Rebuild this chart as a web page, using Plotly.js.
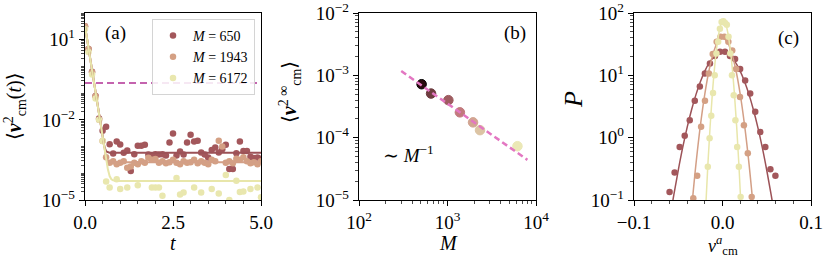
<!DOCTYPE html>
<html><head><meta charset="utf-8">
<script src="https://cdn.plot.ly/plotly-3.0.1.min.js"></script>
<style>body{margin:0;background:#fff} #chart{width:830px;height:260px}</style>
</head><body><div id="chart"></div>
<script>
// ---------- Panel (a): <v_cm^2(t)> vs t ----------
const tA = [0.0,0.1,0.2,0.3,0.4,0.5,0.6,0.7,0.8,0.9,1.0,1.1,1.2,1.3,1.4,1.5,1.6,1.7,1.8,1.9,2.0,2.1,2.2,2.3,2.4,2.5,2.6,2.7,2.8,2.9,3.0,3.1,3.2,3.3,3.4,3.5,3.6,3.7,3.8,3.9,4.0,4.1,4.2,4.3,4.4,4.5,4.6,4.7,4.8,4.9,5.0];
const v650 = [32,4.5,0.63,0.079,0.0112,3.9e-3,5.5e-3,1.23e-3,5.5e-4,1.55e-3,1.2e-3,5.9e-4,7.1e-4,1.23e-4,5.2e-4,1.07e-3,1.07e-3,1.17e-3,5.0e-4,4.6e-4,5.2e-4,5.0e-4,5.2e-4,4.6e-4,1.41e-3,3.1e-3,4.6e-4,6.6e-4,5.0e-4,1.41e-3,2.75e-3,1.55e-3,1.66e-3,6.0e-4,5.0e-4,3.9e-4,7.4e-4,9.3e-4,6.0e-4,7.9e-4,1.17e-3,1.45e-4,1.45e-4,5.6e-4,1.55e-3,6.9e-4,6.9e-4,4.2e-4,3.7e-4,3.9e-4,3.5e-4];
const v1943 = [32,4.5,0.6,0.076,0.01,1.6e-3,4.0e-4,2.5e-4,2.8e-4,2.2e-4,2.5e-4,2.8e-4,1.6e-4,1.8e-4,2.5e-4,2.2e-4,2.8e-4,2.5e-4,3.8e-4,3.2e-4,3.4e-4,2.5e-4,2.8e-4,2.4e-4,2.6e-4,3.2e-4,2.5e-4,2.2e-4,2.8e-4,2.5e-4,2.6e-4,3.2e-4,2.4e-4,2.8e-4,2.5e-4,2.2e-4,3.2e-4,2.8e-4,1.66e-3,1.0e-3,2.5e-4,2.8e-4,2.4e-4,3.5e-4,3.2e-4,4.0e-4,2.8e-4,2.4e-4,2.6e-4,2.2e-4,2.8e-4];
const v6172 = [25,3.5,0.5,0.063,0.01,1.6e-3,4.9e-5,2.95e-5,5e-6,6.0e-5,2.6e-5,4e-6,2.95e-5,3.2e-6,6.3e-6,3.6e-5,5e-6,2.5e-6,6.3e-6,2.95e-5,2.95e-5,2.95e-5,1.45e-5,4e-6,5e-6,2.5e-6,6.6e-5,1.6e-5,1.9e-5,3.2e-6,5e-6,2.95e-5,4e-6,1.9e-5,2.5e-6,5e-6,2.6e-5,3.2e-6,1.74e-5,4e-6,8.7e-5,1.0e-5,3.2e-6,5.2e-5,2.0e-5,2.1e-5,4e-6,2.6e-5,5e-6,2.95e-5,1.26e-5];
// fitted curves
const fitT650 = [0,0.1,0.2,0.3,0.4,0.5,0.55,0.6,0.7,5.0];
const fitV650 = [32,4.7,0.69,0.102,0.015,2.24e-3,1.0e-3,6.6e-4,5.9e-4,5.9e-4];
const fitT1943 = [0,0.1,0.2,0.3,0.4,0.5,0.55,0.6,0.65,0.75,5.0];
const fitV1943 = [32,4.7,0.69,0.102,0.015,2.24e-3,7.9e-4,3.8e-4,2.75e-4,2.6e-4,2.6e-4];
const fitT6172 = [0,0.1,0.2,0.3,0.4,0.5,0.6,0.65,0.7,0.75,0.8,0.9,5.0];
const fitV6172 = [32,4.7,0.69,0.102,0.015,2.24e-3,3.4e-4,1.41e-4,7.9e-5,6.0e-5,5.4e-5,5.1e-5,5.1e-5];
const dashT = [0,5];
const dashV = [0.24,0.24];
const seriesNames = ['<i>M</i> = 650','<i>M</i> = 1943','<i>M</i> = 6172'];

// ---------- Panel (b): plateau vs M ----------
const Mb = [510,652,1023,1380,1943,2330,6172];
const vb = [7.2e-4,5.1e-4,4.0e-4,2.55e-4,1.76e-4,1.32e-4,7.3e-5];
const bColors = ['#2a0a0e','#6e3c40','#9e5c60','#c27a7e','#d2a592','#dcc4a4','#ebe8b6'];
const fitMb = [300,8000];
const fitvb = [1.17e-3,4.4e-5];

// ---------- Panel (c): distributions ----------
const xc650 = [-0.0598,-0.0541,-0.0484,-0.0427,-0.0370,-0.0313,-0.0256,-0.0199,-0.0142,-0.0085,-0.0028,0.0028,0.0085,0.0142,0.0199,0.0256,0.0313,0.0370,0.0427,0.0484,0.0541,0.0598];
const pc650 = [0.135,0.275,0.71,1.07,1.9,3.9,6.6,10.7,15.5,20.4,24,24,20.4,18.2,12.6,8.3,5.1,2.6,1.23,0.71,0.31,0.245];
const xc1943 = [-0.033,-0.0286,-0.0242,-0.0198,-0.0154,-0.011,-0.0066,-0.0022,0.0022,0.0066,0.011,0.0154,0.0198,0.0242,0.0286,0.033];
const pc1943 = [0.107,0.245,1.5,3.9,10.7,21.9,34.7,41.7,41.7,34.7,25.1,12.6,4.5,1.58,0.56,0.112];
const xc6172 = [-0.0185,-0.0166,-0.0146,-0.0127,-0.0107,-0.00878,-0.00683,-0.00488,-0.00293,-0.00098,0.00098,0.00293,0.00488,0.00683,0.00878,0.0107,0.0127,0.0146,0.0166,0.0185,0.0205];
const pc6172 = [0.07,0.34,0.98,2.24,5.2,10,22.4,34.7,56,72,74,69,65,41.7,22.4,10,4.8,1.9,0.71,0.34,0.112];
const gx650 = [-0.06,-0.055,-0.05,-0.045,-0.04,-0.035,-0.03,-0.025,-0.02,-0.015,-0.01,-0.005,0,0.005,0.01,0.015,0.02,0.025,0.03,0.035,0.04,0.045,0.05,0.055,0.06];
const gy650 = [0.045,0.121,0.30,0.69,1.45,2.78,4.9,7.9,11.7,15.8,19.5,22.4,23.4,22.4,19.5,15.8,11.7,7.9,4.9,2.78,1.45,0.69,0.30,0.121,0.045];
const gx1943 = [-0.035,-0.03,-0.025,-0.02,-0.015,-0.01,-0.005,0,0.005,0.01,0.015,0.02,0.025,0.03,0.035];
const gy1943 = [0.070,0.376,1.56,5.0,12.4,23.7,35.0,39.8,35.0,23.7,12.4,5.0,1.56,0.376,0.070];
const gx6172 = [-0.0215,-0.019,-0.0165,-0.014,-0.0115,-0.009,-0.0065,-0.004,-0.0015,0.001,0.0035,0.006,0.0085,0.011,0.0135,0.016,0.0185,0.021,0.0235];
const gy6172 = [0.0117,0.074,0.374,1.52,5.0,13.2,28,48.2,66.5,74,66.5,48.2,28,13.2,5.0,1.52,0.374,0.074,0.0117];

const cols = ['#a3575b','#d4a084','#e9e7ae'];
const lineCols = ['#9c5257','#d39f86','#e8e6aa'];
const FONT = '"Liberation Serif", "DejaVu Serif", "Times New Roman", serif';

function logMinor(a,b){const r=[];for(let d=a;d<b;d++)for(let k=1;k<10;k++)r.push(k*Math.pow(10,d));r.push(Math.pow(10,b));return r;}
function linMinor(a,b,s){const r=[];for(let v=a;v<=b+1e-9;v+=s)r.push(+v.toFixed(6));return r;}
function ax(extra){
  return Object.assign({showline:true,mirror:true,linecolor:'#000',linewidth:1.3,ticks:'outside',ticklen:5,tickwidth:1,tickcolor:'#000',
    showgrid:false,zeroline:false,ticklabeloverflow:'allow',tickfont:{family:FONT,size:19,color:'#000'}},extra);
}
function minorOpts(vals){return {tickvals:vals,ticklen:2.5,tickwidth:0.7,tickcolor:'#000',ticks:'outside',showgrid:false};}

const traces = [];
[v650,v1943,v6172].forEach((v,i)=>{
  traces.push({x:tA,y:v,type:'scatter',mode:'markers',name:seriesNames[i],xaxis:'x',yaxis:'y',
    marker:{color:cols[i],size:6.5},showlegend:true});
});
[[fitT650,fitV650],[fitT1943,fitV1943],[fitT6172,fitV6172]].forEach((p,i)=>{
  traces.push({x:p[0],y:p[1],type:'scatter',mode:'lines',xaxis:'x',yaxis:'y',line:{color:lineCols[i],width:2},showlegend:false,hoverinfo:'skip'});
});
traces.push({x:dashT,y:dashV,type:'scatter',mode:'lines',xaxis:'x',yaxis:'y',line:{color:'#c463ae',width:2,dash:'7px,4px'},showlegend:false});
traces.push({x:Mb,y:vb,type:'scatter',mode:'markers',xaxis:'x2',yaxis:'y2',showlegend:false,
  marker:{color:bColors,size:9.5,line:{color:bColors.map((c,i)=>i===0?'#000':c),width:1}}});
traces.push({x:fitMb,y:fitvb,type:'scatter',mode:'lines',xaxis:'x2',yaxis:'y2',showlegend:false,line:{color:'#e377c2',width:2.5,dash:'6px,3.5px'}});
[[gx650,gy650,xc650,pc650],[gx1943,gy1943,xc1943,pc1943],[gx6172,gy6172,xc6172,pc6172]].forEach((p,i)=>{
  traces.push({x:p[0],y:p[1],type:'scatter',mode:'lines',xaxis:'x3',yaxis:'y3',showlegend:false,line:{color:lineCols[i],width:1.5,shape:'spline'}});
  traces.push({x:p[2],y:p[3],type:'scatter',mode:'markers',xaxis:'x3',yaxis:'y3',showlegend:false,marker:{color:cols[i],size:6.5}});
});

function px(x){return x/830;}
function py(y){return (200-y)/187;}
const ann = (text,x,y,size,extra)=>Object.assign({text:text,xref:'paper',yref:'paper',x:px(x),y:py(y),showarrow:false,
  font:{family:FONT,size:size,color:'#000'},xanchor:'center',yanchor:'middle',borderpad:0},extra||{});

const layout = {
  width:830,height:260,margin:{l:0,r:0,t:13,b:60},paper_bgcolor:'#fff',plot_bgcolor:'#fff',
  font:{family:FONT,color:'#000'},
  showlegend:true,
  legend:{x:px(152),y:py(19),xanchor:'left',yanchor:'top',bgcolor:'rgba(255,255,255,0.85)',bordercolor:'#d4d4d4',borderwidth:1,
    font:{family:FONT,size:14,color:'#000'},tracegroupgap:0},
  xaxis:ax({domain:[px(85),px(261)],range:[0,5],tickvals:[0,2.5,5],ticktext:['0.0','2.5','5.0'],anchor:'y',
    minor:minorOpts(linMinor(0,5,0.5))}),
  yaxis:ax({domain:[0,1],type:'log',range:[-5,2],tickvals:[1e-5,1e-2,10],ticktext:['10<sup>−5</sup>','10<sup>−2</sup>','10<sup>1</sup>'],anchor:'x',
    minor:minorOpts(logMinor(-5,2))}),
  xaxis2:ax({domain:[px(359),px(536)],type:'log',range:[2,4],tickvals:[100,1000,10000],ticktext:['10<sup>2</sup>','10<sup>3</sup>','10<sup>4</sup>'],anchor:'y2',
    minor:minorOpts(logMinor(2,4))}),
  yaxis2:ax({domain:[0,1],type:'log',range:[-5,-2],tickvals:[1e-5,1e-4,1e-3,1e-2],ticktext:['10<sup>−5</sup>','10<sup>−4</sup>','10<sup>−3</sup>','10<sup>−2</sup>'],anchor:'x2',
    minor:minorOpts(logMinor(-5,-2))}),
  xaxis3:ax({domain:[px(634),px(811)],range:[-0.1,0.1],tickvals:[-0.1,0,0.1],ticktext:['−0.1','0.0','0.1'],anchor:'y3',
    minor:minorOpts(linMinor(-0.1,0.1,0.02))}),
  yaxis3:ax({domain:[0,1],type:'log',range:[-1,2],tickvals:[0.1,1,10,100],ticktext:['10<sup>−1</sup>','10<sup>0</sup>','10<sup>1</sup>','10<sup>2</sup>'],anchor:'x3',
    minor:minorOpts(logMinor(-1,2))}),
  annotations:[
    ann('⟨<b><i>v</i></b><sup>2</sup><sub>cm</sub>(<i>t</i>)⟩',15,106,20,{textangle:-90}),
    ann('<i>t</i>',173,243,20),
    ann('(a)',115,33,19),
    ann('⟨<b><i>v</i></b><sup>2 ∞</sup><sub>cm</sub>⟩',290,92,20,{textangle:-90}),
    ann('<i>M</i>',448,243,20),
    ann('(b)',515,33,19),
    ann('∼ <i>M</i><sup>−1</sup>',408,154,19),
    ann('<i>P</i>',573,100,26,{textangle:-90}),
    ann('<i>v</i><sup><i>a</i></sup><sub>cm</sub>',723,245,18),
    ann('(c)',788,38,19)
  ]
};
Plotly.newPlot('chart',traces,layout,{displayModeBar:false,staticPlot:true});
</script></body></html>
